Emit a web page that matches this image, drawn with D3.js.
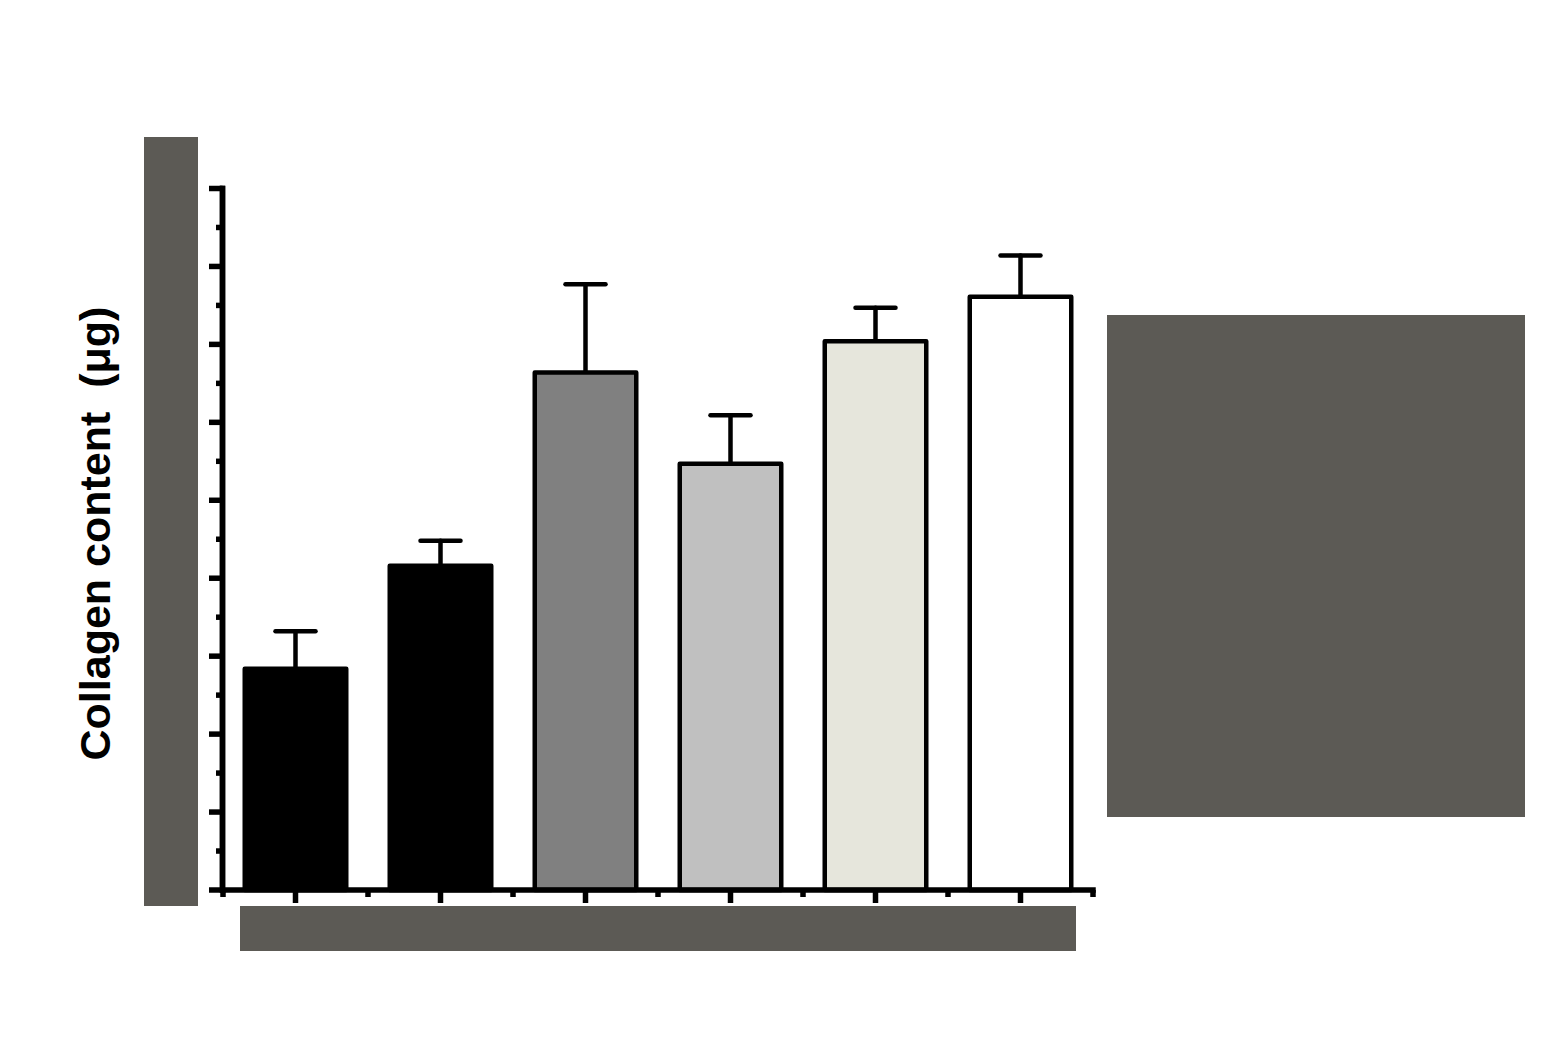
<!DOCTYPE html>
<html>
<head>
<meta charset="utf-8">
<script src="https://cdn.jsdelivr.net/npm/d3@7"></script>
<style>
  body { margin: 0; background: #fff; }
  svg { display: block; }
</style>
</head>
<body>
<div id="chart-area"></div>
<script>
// group labels are hidden under a grey box in the source, so they are not shown
const groups = ["G1", "G2", "G3", "G4", "G5", "G6"]
const means = [28.4, 41.6, 66.4, 54.7, 70.4, 76.1]
const sems = [4.8, 3.2, 11.3, 6.2, 4.3, 5.3]
const fills = ["#000000", "#000000", "#808080", "#c0c0c0", "#e6e6dc", "#ffffff"]
const majorTicks = d3.range(0, 91, 10)
const minorTicks = d3.range(5, 90, 10)

const svg = d3.select("#chart-area").append("svg")
  .attr("width", 1559)
  .attr("height", 1040)

const x = d3.scaleBand()
  .domain(groups)
  .range([223, 1093])
  .paddingInner(0.3)
  .paddingOuter(0.15)

const y = d3.scaleLinear()
  .domain([0, 90])
  .range([890, 188.5])

// error bars (upper only)
const err = svg.append("g")
  .attr("stroke", "#000")
  .attr("stroke-width", 4.5)
  .attr("stroke-linecap", "round")

groups.forEach((g, i) => {
  const cx = x(g) + x.bandwidth() / 2
  err.append("line")
    .attr("x1", cx).attr("x2", cx)
    .attr("y1", y(means[i])).attr("y2", y(means[i] + sems[i]))
  err.append("line")
    .attr("x1", cx - 20).attr("x2", cx + 20)
    .attr("y1", y(means[i] + sems[i])).attr("y2", y(means[i] + sems[i]))
})

svg.append("g").selectAll("rect")
  .data(groups)
  .enter().append("rect")
  .attr("x", d => x(d))
  .attr("width", x.bandwidth())
  .attr("y", (d, i) => y(means[i]))
  .attr("height", (d, i) => y(0) - y(means[i]))
  .attr("fill", (d, i) => fills[i])
  .attr("stroke", "#000")
  .attr("stroke-width", 4.5)
  .attr("stroke-linejoin", "round")

// y axis
const yAxis = d3.axisLeft(y)
  .tickValues(majorTicks)
  .tickSize(13.5)
  .tickSizeOuter(0)
  .tickFormat("")
  .offset(0)

const yMinor = d3.axisLeft(y)
  .tickValues(minorTicks)
  .tickSize(6.5)
  .tickSizeOuter(0)
  .tickFormat("")
  .offset(0)

svg.append("g")
  .attr("class", "axis")
  .attr("transform", "translate(222.5,0)")
  .call(yMinor)

svg.append("g")
  .attr("class", "axis")
  .attr("transform", "translate(222.5,0)")
  .call(yAxis)

// x axis: major ticks at group centres, minor ticks at the band edges
const edges = groups.map(g => x(g) - x.step() * x.paddingInner() / 2)
edges.push(x.range()[1])

const xg = svg.append("g")
  .attr("class", "axis")
  .attr("transform", "translate(0,890)")
xg.call(d3.axisBottom(x).tickSize(13).tickSizeOuter(0).tickFormat("").offset(0))

xg.selectAll(".minor")
  .data(edges)
  .enter().append("line")
  .attr("class", "minor")
  .attr("x1", d => d).attr("x2", d => d)
  .attr("y1", 0).attr("y2", 7)

svg.selectAll(".axis path.domain")
  .attr("stroke", "#000")
  .attr("stroke-width", 5.5)
  .attr("stroke-linecap", "square")
svg.selectAll(".axis line")
  .attr("stroke", "#000")
  .attr("stroke-width", 5.5)

// y axis title
svg.append("text")
  .attr("transform", "translate(110,533.5) rotate(-90)")
  .attr("text-anchor", "middle")
  .style("font-family", "'Liberation Sans', Arial, sans-serif")
  .style("font-weight", "bold")
  .style("font-size", "43px")
  .style("white-space", "pre")
  .text("Collagen content  (\u03bcg)")

// grey boxes that cover the tick labels and legend in the source image
const covers = [
  [144, 137, 54, 769],
  [240, 906, 836, 45],
  [1107, 315, 418, 502]
]
svg.append("g").selectAll("rect")
  .data(covers)
  .enter().append("rect")
  .attr("x", d => d[0])
  .attr("y", d => d[1])
  .attr("width", d => d[2])
  .attr("height", d => d[3])
  .attr("fill", "#5c5a55")
</script>
</body>
</html>
